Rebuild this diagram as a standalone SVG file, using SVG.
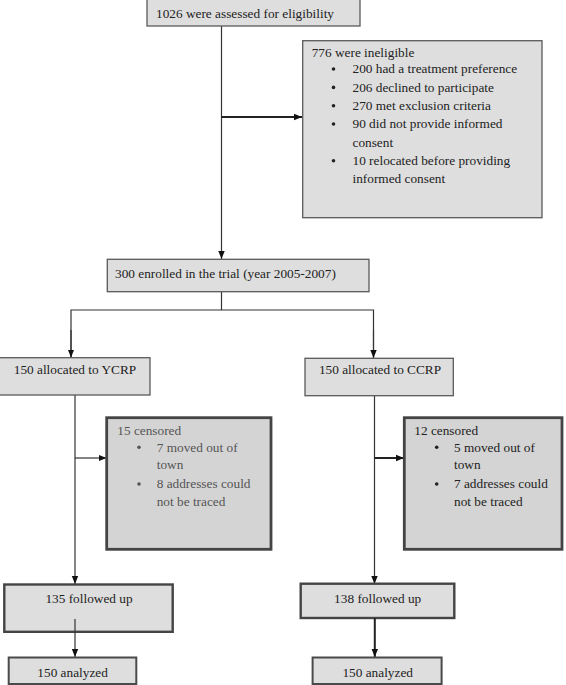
<svg xmlns="http://www.w3.org/2000/svg" width="566" height="685" viewBox="0 0 566 685" font-family="'Liberation Serif', 'DejaVu Serif', serif">
<style>
text{font-family:'Liberation Serif','DejaVu Serif',serif;font-size:13.3px;fill:#222}
.c{text-anchor:middle}
.g{fill:#555}
.box{fill:#dedede;stroke:#5a5a5a;stroke-width:1.3}
.cen{fill:#d4d4d4;stroke:#444;stroke-width:2.8}
.fu{fill:#dedede;stroke:#444;stroke-width:2.4}
.an{fill:#dedede;stroke:#4a4a4a;stroke-width:2}
.ln{stroke:#333;stroke-width:1.2;fill:none}
.lt{stroke:#222;stroke-width:2;fill:none}
</style>
<defs>
<marker id="ah" markerUnits="userSpaceOnUse" markerWidth="8" markerHeight="8" viewBox="0 0 8 8" refX="8" refY="4" orient="auto">
<path d="M0,0.8 L8,4 L0,7.2 Z" fill="#111"/>
</marker>
</defs>
<g id="connectors">
<line class="ln" x1="221.5" y1="26" x2="221.5" y2="259" marker-end="url(#ah)"/>
<line class="lt" x1="221.5" y1="117" x2="302" y2="117" marker-end="url(#ah)"/>
<line class="ln" x1="221.5" y1="292" x2="221.5" y2="310"/>
<polyline class="ln" points="71,357.5 71,310 373.5,310 373.5,358"/>
<line class="ln" x1="71" y1="330" x2="71" y2="357.5" marker-end="url(#ah)"/>
<line class="ln" x1="373.5" y1="330" x2="373.5" y2="358" marker-end="url(#ah)"/>
<line class="ln" x1="75" y1="395" x2="75" y2="584" marker-end="url(#ah)"/>
<line class="ln" x1="75" y1="458" x2="106.5" y2="458" marker-end="url(#ah)"/>
<line class="ln" x1="374.5" y1="396" x2="374.5" y2="584" marker-end="url(#ah)"/>
<line class="lt" x1="374.5" y1="458" x2="404" y2="458" marker-end="url(#ah)"/>
</g>
<g id="n-assessed">
<rect class="box" x="147" y="-1" width="213" height="27"/>
<text x="156" y="18">1026 were assessed for eligibility</text>
</g>
<g id="n-ineligible">
<rect class="box" x="302.7" y="40.7" width="239.3" height="177"/>
<text x="311.7" y="56.5">776 were ineligible</text>
<g fill="#222">
<circle cx="333.5" cy="69" r="1.8"/>
<circle cx="333.5" cy="87.4" r="1.8"/>
<circle cx="333.5" cy="105.7" r="1.8"/>
<circle cx="333.5" cy="124" r="1.8"/>
<circle cx="333.5" cy="160.7" r="1.8"/>
</g>
<text x="352.5" y="73.3">200 had a treatment preference</text>
<text x="352.5" y="91.7">206 declined to participate</text>
<text x="352.5" y="110">270 met exclusion criteria</text>
<text x="352.5" y="128.3">90 did not provide informed</text>
<text x="352.5" y="146.7">consent</text>
<text x="352.5" y="165">10 relocated before providing</text>
<text x="352.5" y="183.3">informed consent</text>
</g>
<g id="n-enrolled">
<rect class="box" x="107.3" y="259.3" width="261.7" height="32.4"/>
<text x="115" y="277.5">300 enrolled in the trial (year 2005-2007)</text>
</g>
<g id="n-ycrp">
<rect class="box" x="-1" y="357.7" width="151" height="37.3"/>
<text class="c" x="75" y="374">150 allocated to YCRP</text>
</g>
<g id="n-ccrp">
<rect class="box" x="305" y="358.3" width="148.3" height="37.4"/>
<text class="c" x="380" y="374">150 allocated to CCRP</text>
</g>
<g id="n-cens1">
<rect class="cen" x="106.7" y="417.7" width="164.3" height="131.6"/>
<text class="g" x="117.3" y="435">15 censored</text>
<g fill="#555">
<circle cx="139" cy="447.3" r="1.8"/>
<circle cx="139" cy="484" r="1.8"/>
</g>
<text class="g" x="156.7" y="451.7">7 moved out of</text>
<text class="g" x="156.7" y="469.3">town</text>
<text class="g" x="156.7" y="488.3">8 addresses could</text>
<text class="g" x="156.7" y="506">not be traced</text>
</g>
<g id="n-cens2">
<rect class="cen" x="404.3" y="417.7" width="157.7" height="131.6"/>
<text x="414.3" y="435">12 censored</text>
<g fill="#222">
<circle cx="436.7" cy="447.3" r="1.8"/>
<circle cx="436.7" cy="484" r="1.8"/>
</g>
<text x="454" y="451.7">5 moved out of</text>
<text x="454" y="469.3">town</text>
<text x="454" y="488.3">7 addresses could</text>
<text x="454" y="506">not be traced</text>
</g>
<g id="n-fu1">
<rect class="fu" x="4.3" y="584.5" width="168.4" height="47.3"/>
<text class="c" x="89" y="603">135 followed up</text>
</g>
<g id="n-fu2">
<rect class="fu" x="300.7" y="583.7" width="153.6" height="34.3"/>
<text class="c" x="377.7" y="602.5">138 followed up</text>
</g>
<g id="connectors-lower">
<line class="ln" x1="75" y1="619" x2="75" y2="657" marker-end="url(#ah)"/>
<line class="lt" x1="374.8" y1="618" x2="374.8" y2="657" marker-end="url(#ah)"/>
</g>
<g id="n-an1">
<rect class="an" x="8.7" y="657.5" width="127.6" height="26.5"/>
<text class="c" x="72.6" y="677">150 analyzed</text>
</g>
<g id="n-an2">
<rect class="an" x="312.6" y="657.5" width="129" height="26.5"/>
<text class="c" x="377.7" y="677">150 analyzed</text>
</g>
</svg>
